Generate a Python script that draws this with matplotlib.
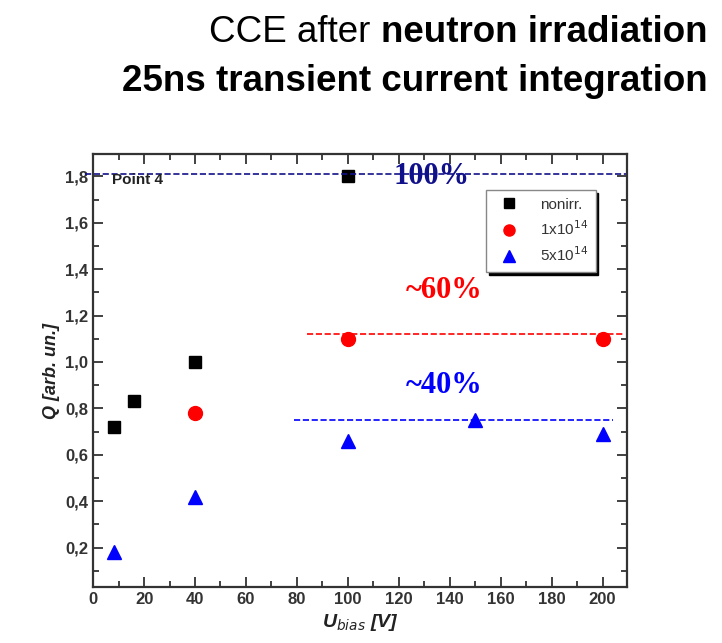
import matplotlib.pyplot as plt
from matplotlib.ticker import MultipleLocator, FuncFormatter

# Daten
u_nonirr = [8, 16, 40, 100]
q_nonirr = [0.72, 0.83, 1.00, 1.80]
u_1e14 = [40, 100, 200]
q_1e14 = [0.78, 1.10, 1.10]
u_5e14 = [8, 40, 100, 150, 200]
q_5e14 = [0.18, 0.42, 0.66, 0.75, 0.69]

# Referenzlinien: (y, x_start, x_ende)
ref_100 = (1.81, -3, 210)
ref_60 = (1.12, 84, 208)
ref_40 = (0.75, 79, 204)

plt.rcParams["font.family"] = ["Liberation Sans", "DejaVu Sans"]

fig = plt.figure(figsize=(7.22, 6.43), dpi=100)
ax = fig.add_axes([0.129, 0.087, 0.739, 0.673])

ax.plot(u_nonirr, q_nonirr, "s", color="black", ms=9, label="nonirr.")
ax.plot(u_1e14, q_1e14, "o", color="#ff0000", ms=10, label=r"1x10$^{14}$")
ax.plot(u_5e14, q_5e14, "^", color="#0000ff", ms=10, label=r"5x10$^{14}$")

# gestrichelte Linien
ax.plot(ref_100[1:], [ref_100[0]] * 2, "--", color="#10108a", lw=1.2, clip_on=False)
ax.plot(ref_60[1:], [ref_60[0]] * 2, "--", color="#ff0000", lw=1.2)
ax.plot(ref_40[1:], [ref_40[0]] * 2, "--", color="#0000ff", lw=1.2)

serif = ["Liberation Serif", "DejaVu Serif"]
ax.text(133, 1.80, "100%", color="#10108a", fontsize=22, fontweight="bold",
        family=serif, ha="center", va="center")
ax.text(138, 1.31, "~60%", color="#ff0000", fontsize=22, fontweight="bold",
        family=serif, ha="center", va="center")
ax.text(138, 0.90, "~40%", color="#0000ff", fontsize=22, fontweight="bold",
        family=serif, ha="center", va="center")
ax.text(0.035, 0.94, "Point 4", transform=ax.transAxes, fontsize=11,
        fontweight="bold", color="#222222", va="center")

ax.set_xlim(0, 209.5)
ax.set_ylim(0.03, 1.895)
ax.xaxis.set_major_locator(MultipleLocator(20))
ax.xaxis.set_minor_locator(MultipleLocator(10))
ax.yaxis.set_major_locator(MultipleLocator(0.2))
ax.yaxis.set_minor_locator(MultipleLocator(0.1))
ax.yaxis.set_major_formatter(FuncFormatter(lambda v, p: f"{v:.1f}".replace(".", ",")))
ax.tick_params(which="both", direction="in", top=True, right=True, width=1.3,
               color="#333333")
ax.tick_params(which="major", length=7, labelsize=12, labelcolor="#333333")
ax.tick_params(which="minor", length=4)
for lbl in ax.get_xticklabels() + ax.get_yticklabels():
    lbl.set_fontweight("bold")
for sp in ax.spines.values():
    sp.set_linewidth(1.6)
    sp.set_color("#333333")

ax.set_xlabel(r"U$_{\mathbf{\mathit{bias}}}$ [V]", fontsize=14, fontweight="bold",
              style="italic", color="#222222")
ax.set_ylabel("Q [arb. un.]", fontsize=13, fontweight="bold", style="italic",
              color="#222222")

leg = ax.legend(loc="upper right", bbox_to_anchor=(0.956, 0.935), fontsize=11,
                fancybox=False, shadow={"color": "black", "alpha": 1},
                markerscale=0.8, handletextpad=1.0, borderpad=0.5,
                labelspacing=0.5, edgecolor="#888888", framealpha=1)
for t in leg.get_texts():
    t.set_color("#333333")

# Titel, rechtsbündig, mit fettem Teil
fett = fig.text(0.98, 0.95, "neutron irradiation", fontsize=26.5,
                fontweight="bold", ha="right", va="center")
fig.canvas.draw()
bb = fett.get_window_extent()
fig.text(bb.x0, bb.y0, "CCE after ", fontsize=26.5, ha="right", va="bottom",
         transform=None)
fig.text(0.98, 0.873, "25ns transient current integration", fontsize=26.5,
         fontweight="bold", ha="right", va="center")

fig.savefig("out.png", dpi=100)
